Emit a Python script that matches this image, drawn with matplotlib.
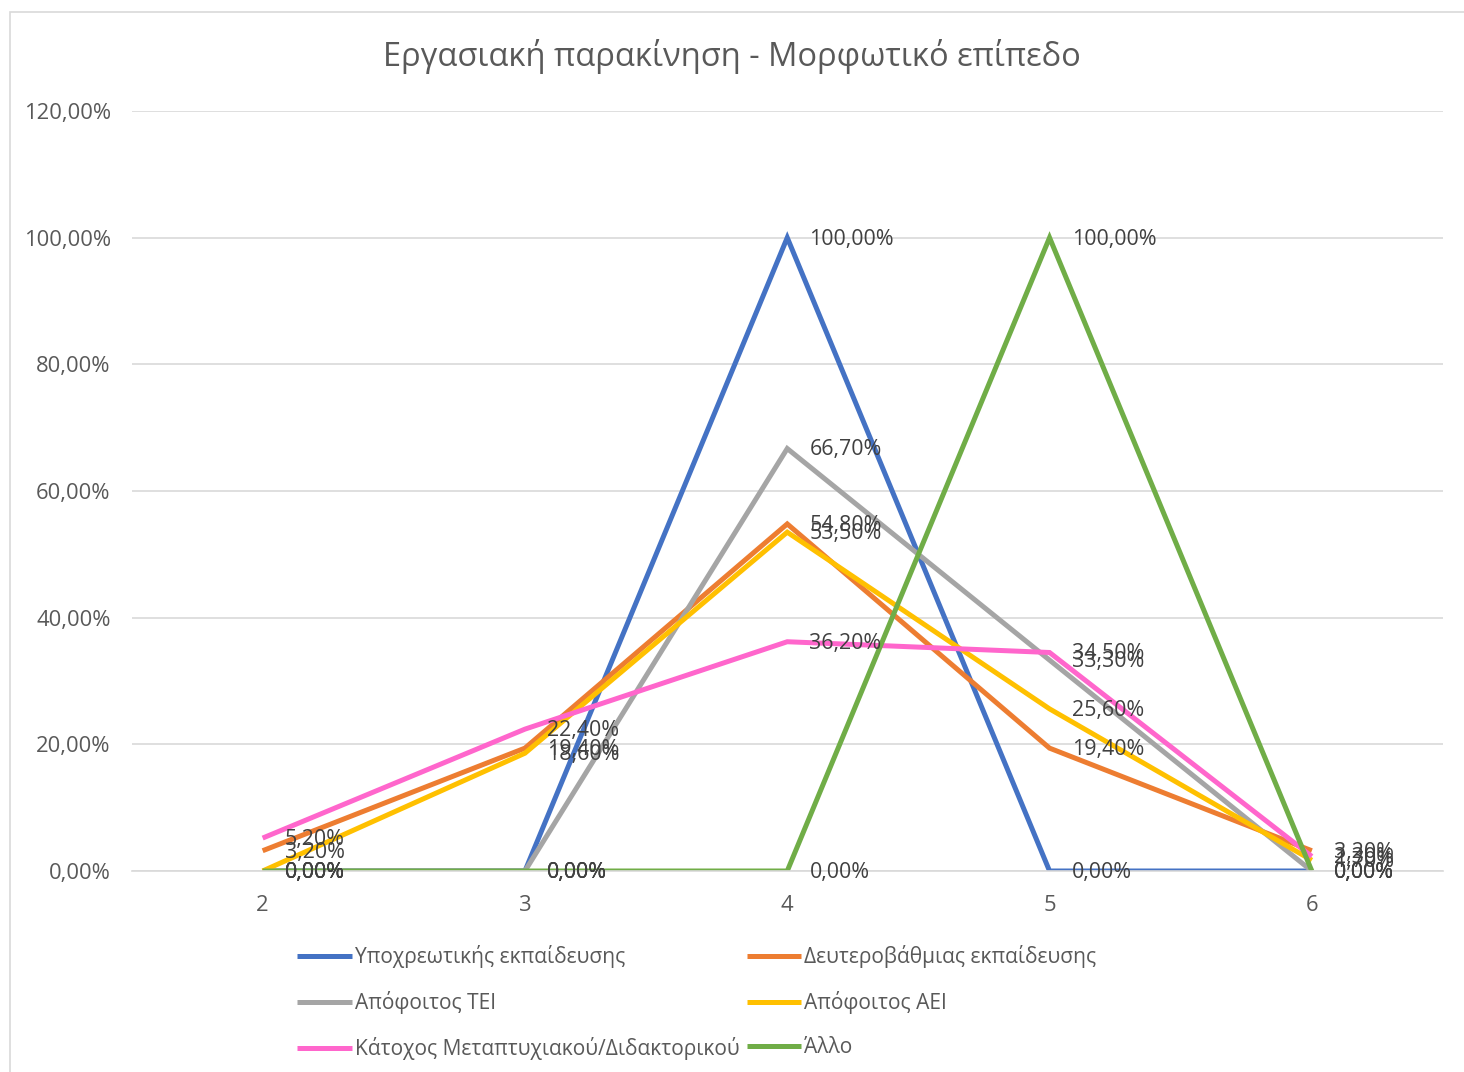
import matplotlib
matplotlib.use("Agg")
import matplotlib.pyplot as plt
from matplotlib.patches import Rectangle
from matplotlib.ticker import FuncFormatter

plt.rcParams['font.family'] = ['Open Sans', 'DejaVu Sans']

# Data
levels = [2, 3, 4, 5, 6]
series_names = [
    "Υποχρεωτικής εκπαίδευσης",
    "Δευτεροβάθμιας εκπαίδευσης",
    "Απόφοιτος ΤΕΙ",
    "Απόφοιτος ΑΕΙ",
    "Κάτοχος Μεταπτυχιακού/Διδακτορικού",
    "Άλλο",
]
ypoxreotikis = [0.0, 0.0, 100.0, 0.0, 0.0]
deyterovathmias = [3.2, 19.4, 54.8, 19.4, 3.2]
tei = [0.0, 0.0, 66.7, 33.3, 0.0]
aei = [0.0, 18.6, 53.5, 25.6, 1.7]
metaptyxiakoy = [5.2, 22.4, 36.2, 34.5, 2.3]
allo = [0.0, 0.0, 0.0, 100.0, 0.0]

series_values = [ypoxreotikis, deyterovathmias, tei, aei, metaptyxiakoy, allo]
colors = ["#4472C4", "#ED7D31", "#A5A5A5", "#FFC000", "#FF66CC", "#70AD47"]
y_ticks = [0, 20, 40, 60, 80, 100, 120]

fig = plt.figure(figsize=(14.64, 10.72), dpi=100)
W, H = 1464, 1072
ax = fig.add_axes([131.5 / W, 1 - 871 / H, (1443 - 131.5) / W, (871 - 111) / H])

# chart border
fig.patches.append(Rectangle((10 / W, -0.05), 1.1, 1 - 12 / H + 0.05,
                             transform=fig.transFigure, fill=False,
                             edgecolor="#D9D9D9", linewidth=1.2))

def pct(v, pos=None):
    return f"{v:.2f}".replace(".", ",") + "%"

for name, vals, c in zip(series_names, series_values, colors):
    ax.plot(levels, vals, color=c, linewidth=3.6, label=name,
            solid_joinstyle="miter", solid_capstyle="butt")

for vals in series_values:
    for x, v in zip(levels, vals):
        ax.annotate(pct(v), (x, v), xytext=(16, -1), textcoords="offset points",
                    ha="left", va="center", fontsize=15.4, color="#404040")

ax.set_xlim(1.5, 6.5)
ax.set_ylim(0, 120)
ax.set_xticks(levels)
ax.set_xticklabels([str(l) for l in levels])
ax.set_yticks(y_ticks)
ax.yaxis.set_major_formatter(FuncFormatter(pct))
ax.grid(axis="y", color="#D9D9D9", linewidth=1.2)
ax.set_axisbelow(True)
for s in ["top", "right", "left"]:
    ax.spines[s].set_visible(False)
ax.spines["bottom"].set_color("#D9D9D9")
ax.spines["bottom"].set_linewidth(1.2)
ax.tick_params(axis="both", length=0, colors="#595959", labelsize=15.8)
ax.tick_params(axis="x", pad=17)
ax.tick_params(axis="y", pad=15)

fig.text(0.5, 1 - 56 / H, "Εργασιακή παρακίνηση - Μορφωτικό επίπεδο",
         ha="center", va="center", fontsize=23.5, color="#595959")

# legend filled row by row
handles, labels = ax.get_legend_handles_labels()
order = [0, 2, 4, 1, 3, 5]
leg = fig.legend([handles[i] for i in order], [labels[i] for i in order],
                 loc="upper left", ncol=2,
                 bbox_to_anchor=(297 / W, 1 - 945 / H), frameon=False,
                 borderpad=0, borderaxespad=0,
                 fontsize=15.1, labelcolor="#595959", handlelength=2.6,
                 handletextpad=0.15, columnspacing=0.35, labelspacing=1.1)

fig.savefig("out.png", dpi=100)
